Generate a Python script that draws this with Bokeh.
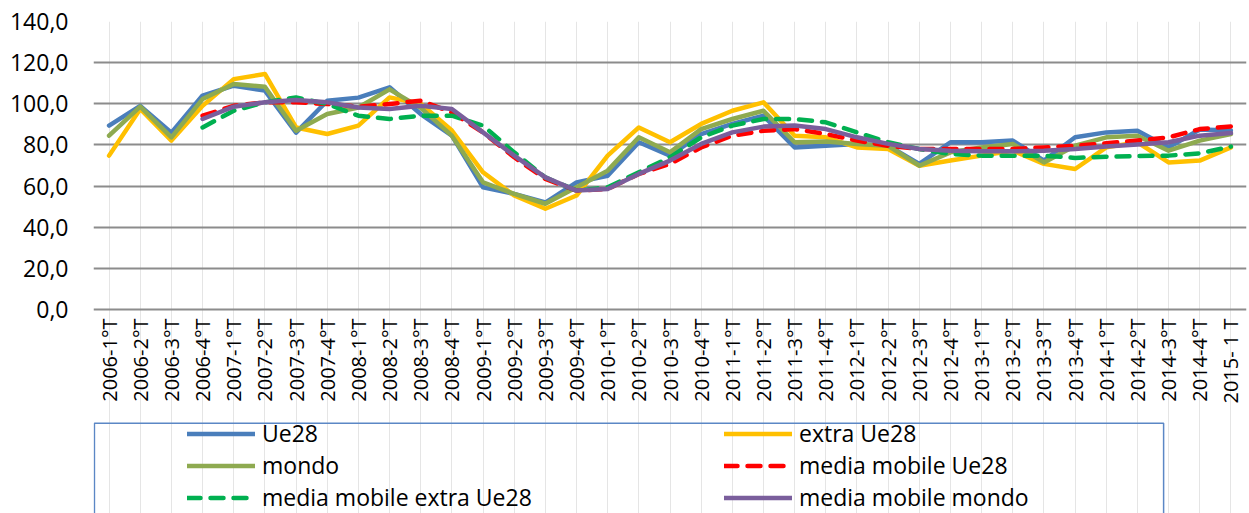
import math
import numpy as np
from bokeh.plotting import figure
from bokeh.models import (FactorRange, Range1d, FixedTicker, Legend, LegendItem,
                          BoxAnnotation, ColumnDataSource)
from bokeh.core.properties import value
from bokeh.embed import file_html
from bokeh.resources import INLINE

nan = float("nan")

categories = ["2006-1°T", "2006-2°T", "2006-3°T", "2006-4°T",
              "2007-1°T", "2007-2°T", "2007-3°T", "2007-4°T",
              "2008-1°T", "2008-2°T", "2008-3°T", "2008-4°T",
              "2009-1°T", "2009-2°T", "2009-3°T", "2009-4°T",
              "2010-1°T", "2010-2°T", "2010-3°T", "2010-4°T",
              "2011-1°T", "2011-2°T", "2011-3°T", "2011-4°T",
              "2012-1°T", "2012-2°T", "2012-3°T", "2012-4°T",
              "2013-1°T", "2013-2°T", "2013-3°T", "2013-4°T",
              "2014-1°T", "2014-2°T", "2014-3°T", "2014-4°T",
              "2015- 1 T"]

ue28 = [89.4, 99.0, 86.0, 104.0, 108.8, 106.4, 86.0, 101.5, 103.0, 108.0,
        95.0, 84.5, 59.4, 56.2, 52.0, 61.8, 65.0, 81.3, 74.8, 85.3,
        90.2, 94.2, 78.8, 79.6, 80.5, 79.6, 70.8, 81.3, 81.3, 82.1,
        72.4, 83.7, 86.1, 86.9, 78.8, 87.5, 87.0]

extra_ue28 = [74.8, 97.5, 82.1, 99.0, 112.0, 114.5, 88.5, 85.3, 89.4, 103.1,
              100.0, 87.0, 66.7, 55.4, 49.0, 55.4, 74.8, 88.5, 81.3, 90.2,
              96.6, 100.7, 84.5, 83.7, 78.8, 78.0, 69.9, 72.4, 74.8, 77.2,
              70.8, 68.3, 78.8, 81.3, 71.5, 72.4, 78.8]

mondo = [84.5, 98.6, 83.7, 102.3, 109.6, 108.3, 86.9, 95.0, 98.2, 107.0,
         98.0, 84.5, 61.8, 56.2, 51.4, 59.4, 67.5, 83.7, 76.4, 87.7,
         92.6, 96.6, 81.3, 81.7, 80.5, 79.6, 69.9, 76.4, 78.8, 80.5,
         71.5, 79.6, 83.7, 84.5, 77.2, 82.1, 85.3]

mm_ue28 = [nan, nan, nan, 94.2, 99.0, 100.7, 100.7, 99.9, 98.6, 99.9,
           101.5, 95.8, 86.1, 74.0, 63.5, 57.8, 58.6, 65.9, 70.8, 78.8,
           84.5, 86.9, 87.7, 85.3, 82.1, 79.6, 78.0, 78.0, 78.0, 78.0,
           78.8, 79.6, 80.8, 82.1, 83.7, 87.7, 89.0]

mm_extra_ue28 = [nan, nan, nan, 88.5, 96.6, 100.7, 103.1, 99.9, 94.2, 92.6,
                 94.2, 94.2, 89.4, 76.4, 64.2, 57.8, 59.4, 66.7, 74.0, 83.7,
                 89.4, 92.6, 92.6, 91.0, 86.1, 81.3, 78.0, 75.6, 74.8, 74.8,
                 74.8, 73.7, 74.3, 74.6, 74.8, 75.9, 79.2]

mm_mondo = [nan, nan, nan, 92.6, 98.6, 100.7, 101.8, 100.7, 98.2, 97.5,
            99.0, 97.5, 86.1, 74.8, 64.2, 57.8, 58.6, 65.9, 72.4, 80.5,
            86.1, 88.9, 89.4, 87.7, 83.7, 80.5, 78.0, 77.2, 76.9, 76.9,
            77.2, 78.0, 79.2, 80.2, 81.3, 84.5, 85.8]

y_ticks = [0, 20, 40, 60, 80, 100, 120, 140]
y_tick_labels = ["0,0", "20,0", "40,0", "60,0", "80,0", "100,0", "120,0", "140,0"]

series_names = ["Ue28", "extra Ue28", "mondo", "media mobile Ue28",
                "media mobile extra Ue28", "media mobile mondo"]
series_values = [ue28, extra_ue28, mondo, mm_ue28, mm_extra_ue28, mm_mondo]
series_colors = ["#4A7EBB", "#FFC000", "#8EAA50", "#FF0000", "#00B050", "#7A5E9C"]
series_dash = ["solid", "solid", "solid", "13 10", "13 10", "solid"]

FONT = "Open Sans"
GRID = "#8C8C8C"

# frame: top at 21 (=140), value 0 at y=309, frame continues to the bottom edge
PX_PER_UNIT = (309 - 21) / 140.0
Y_MIN = -(513 - 309) / PX_PER_UNIT

p = figure(width=1249, height=513,
           x_range=FactorRange(*categories, range_padding=0),
           y_range=Range1d(Y_MIN, 140),
           x_axis_location=None,
           output_backend="svg", toolbar_location=None, tools="",
           min_border_left=93, min_border_right=3,
           min_border_top=21, min_border_bottom=0)
p.outline_line_color = None
p.background_fill_color = "white"
p.border_fill_color = "white"

src = ColumnDataSource({"x": categories})
renderers = []
for name, vals, col, dash in zip(series_names, series_values, series_colors, series_dash):
    src.data[name] = np.array(vals, dtype=float)
    r = p.line(x="x", y=name, source=src, line_color=col, line_width=4.5,
               line_dash=dash, line_cap="round", line_join="round")
    renderers.append(r)

# category labels under the zero line, reading bottom-to-top
p.text(x="x", y=0, text="x", source=src, angle=math.pi / 2,
       text_align="right", text_baseline="middle", y_offset=9,
       text_font=value(FONT), text_font_size="20px", text_color="black")

# y axis
p.yaxis.ticker = FixedTicker(ticks=y_ticks)
p.yaxis.major_label_overrides = {float(t): l for t, l in zip(y_ticks, y_tick_labels)}
p.yaxis.axis_line_color = None
p.yaxis.major_tick_line_color = None
p.yaxis.minor_tick_line_color = None
p.yaxis.major_tick_out = 0
p.yaxis.major_tick_in = 0
p.yaxis.major_label_standoff = 25
p.yaxis.major_label_text_font = FONT
p.yaxis.major_label_text_font_size = "23px"
p.yaxis.major_label_text_color = "black"

p.ygrid.grid_line_color = GRID
p.ygrid.grid_line_width = 2

# legend frame (data units of the synthetic categorical axis / value axis)
box = BoxAnnotation(left=0.03, right=34.34,
                    top=-(422.7 - 309) / PX_PER_UNIT, bottom=Y_MIN - 10,
                    fill_color=None, fill_alpha=0,
                    line_color="#5B87C5", line_width=1.5, line_alpha=1.0)
p.add_layout(box)

def make_legend(idx, loc):
    return Legend(items=[LegendItem(label=series_names[i], renderers=[renderers[i]]) for i in idx],
                  location=loc, orientation="vertical",
                  padding=0, margin=0, spacing=0,
                  glyph_width=68, glyph_height=31, label_height=31,
                  label_standoff=7,
                  label_text_font=FONT, label_text_font_size="23px",
                  label_text_color="black",
                  background_fill_alpha=0, border_line_color=None)

p.add_layout(make_legend([0, 2, 4], (94, 0)))
p.add_layout(make_legend([1, 3, 5], (631, 0)))

open("out.html", "w").write(file_html(p, INLINE))
